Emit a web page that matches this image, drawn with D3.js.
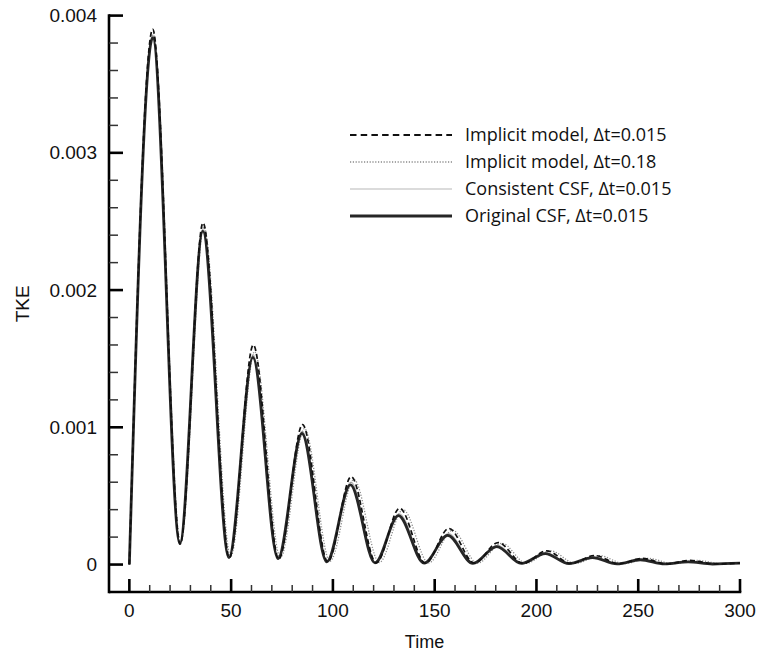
<!DOCTYPE html>
<html>
<head>
<meta charset="utf-8">
<script src="https://cdn.jsdelivr.net/npm/d3@7"></script>
<style>
  html, body { margin: 0; padding: 0; background: #fff; }
  svg { display: block; }
</style>
</head>
<body>
<svg id="chart" width="757" height="653"></svg>
<script>
// ---- Data ----
const seriesNames = [
  "Implicit model, \u0394t=0.015",
  "Implicit model, \u0394t=0.18",
  "Consistent CSF, \u0394t=0.015",
  "Original CSF, \u0394t=0.015"
];

// Original CSF, Δt=0.015 (peaks and troughs)
const origTime = [0, 11.5, 24.8, 36.1, 48.9, 60.7, 73.0, 84.8, 97.0, 108.6, 120.7, 132.2, 144.8, 156.4, 168.8, 180.5, 192.6, 204.3, 216.0, 227.5, 239.6, 251.0, 263.0, 274.5, 286.5, 300];
const origTKE  = [0, 0.00384, 0.000153, 0.00243, 0.00005, 0.00151, 0.000044, 0.000955, 0.00002, 0.00058, 0.000012, 0.000357, 0.00001, 0.000212, 0.000008, 0.000131, 0.000008, 0.00008, 0.000007, 0.00005, 0.000005, 0.000035, 0.000005, 0.00002, 0.000004, 0.00001];

// Consistent CSF, Δt=0.015
const consTime = [0, 11.5, 24.9, 36.2, 49.0, 60.8, 73.2, 85.0, 97.2, 108.9, 121.0, 132.6, 145.2, 156.8, 169.2, 180.9, 193.0, 204.7, 216.4, 228.0, 240.0, 251.5, 263.5, 275.0, 287.0, 300];
const consTKE  = [0, 0.00386, 0.000155, 0.00245, 0.00005, 0.00153, 0.000045, 0.00097, 0.00002, 0.0006, 0.000012, 0.00037, 0.00001, 0.000225, 0.000009, 0.00014, 0.000008, 0.000085, 0.000007, 0.000055, 0.000006, 0.000038, 0.000005, 0.000022, 0.000005, 0.00001];

// Implicit model, Δt=0.015
const impATime = [0, 11.5, 25.0, 36.2, 49.2, 60.9, 73.4, 85.1, 97.5, 109.0, 121.3, 132.8, 145.5, 157.0, 169.5, 181.2, 193.5, 205.0, 217.0, 228.5, 240.7, 252.0, 264.0, 275.5, 287.5, 300];
const impATKE  = [0, 0.0039, 0.00015, 0.00249, 0.00005, 0.0016, 0.00004, 0.00102, 0.00002, 0.00064, 0.000012, 0.00041, 0.00001, 0.000263, 0.00001, 0.00016, 0.000008, 0.0001, 0.000008, 0.000066, 0.000006, 0.000045, 0.000005, 0.00003, 0.000005, 0.00001];

// Implicit model, Δt=0.18
const impBTime = [0, 11.7, 25.2, 36.6, 49.8, 61.5, 74.2, 86.0, 98.6, 110.3, 122.8, 134.5, 147.0, 158.8, 171.0, 183.0, 195.0, 207.0, 219.0, 231.0, 243.0, 255.0, 267.0, 279.0, 291.0, 300];
const impBTKE  = [0, 0.00387, 0.00016, 0.00246, 0.00006, 0.00155, 0.00005, 0.00099, 0.000025, 0.00062, 0.000015, 0.0004, 0.000012, 0.00025, 0.00001, 0.000155, 0.00001, 0.0001, 0.000008, 0.000065, 0.000007, 0.000045, 0.000006, 0.00003, 0.000006, 0.00001];

const xMajorTicks = [0, 50, 100, 150, 200, 250, 300];
const xMinorTicks = [10, 20, 30, 40, 60, 70, 80, 90, 110, 120, 130, 140, 160, 170, 180, 190, 210, 220, 230, 240, 260, 270, 280, 290];
const yMajorTicks = [0, 0.001, 0.002, 0.003, 0.004];
const yTickLabels = ["0", "0.001", "0.002", "0.003", "0.004"];
const yMinorTicks = [0.0002, 0.0004, 0.0006, 0.0008, 0.0012, 0.0014, 0.0016, 0.0018, 0.0022, 0.0024, 0.0026, 0.0028, 0.0032, 0.0034, 0.0036, 0.0038];

// ---- Layout ----
const svg = d3.select("#chart");
svg.append("rect").attr("width", 757).attr("height", 653).attr("fill", "#fff");

const xScale = d3.scaleLinear().domain([-10, 300]).range([109, 740]);
const yScale = d3.scaleLinear().domain([-0.0002, 0.004]).range([592, 15.6]);

const axisFont = "'Liberation Sans', Arial, Helvetica, sans-serif";
const legendFont = "'Open Sans', 'Noto Sans', sans-serif";

// ---- Curves ----
const styles = [
  { time: consTime, tke: consTKE, stroke: "#b8b8b8", width: 1.2, dash: null },
  { time: impBTime, tke: impBTKE, stroke: "#8a8a8a", width: 1.3, dash: "1.2,1.6" },
  { time: origTime, tke: origTKE, stroke: "#262626", width: 2.8, dash: null },
  { time: impATime, tke: impATKE, stroke: "#111", width: 1.7, dash: "5,3" }
];

const lineGen = d3.line()
  .x(d => xScale(d[0]))
  .y(d => yScale(d[1]))
  .curve(d3.curveMonotoneX);

styles.forEach(s => {
  const pts = s.time.map((t, i) => [t, s.tke[i]]);
  svg.append("path")
    .attr("d", lineGen(pts))
    .attr("fill", "none")
    .attr("stroke", s.stroke)
    .attr("stroke-width", s.width)
    .attr("stroke-dasharray", s.dash)
    .attr("stroke-linejoin", "round");
});

// ---- Axes ----
const axLeft = xScale(-10), axBottom = yScale(-0.0002);
const axes = svg.append("g").attr("class", "axes");
axes.append("line")
  .attr("x1", axLeft).attr("x2", xScale(300) + 1.3).attr("y1", axBottom).attr("y2", axBottom)
  .attr("stroke", "#000").attr("stroke-width", 2.6);
axes.append("line")
  .attr("x1", axLeft).attr("x2", axLeft).attr("y1", yScale(0.004) - 1.3).attr("y2", axBottom + 1.3)
  .attr("stroke", "#000").attr("stroke-width", 2.6);
xMinorTicks.forEach(d => {
  axes.append("line")
    .attr("x1", xScale(d)).attr("x2", xScale(d))
    .attr("y1", axBottom).attr("y2", axBottom - 7)
    .attr("stroke", "#333").attr("stroke-width", 1.5);
});
yMinorTicks.forEach(d => {
  axes.append("line")
    .attr("x1", axLeft).attr("x2", axLeft + 9)
    .attr("y1", yScale(d)).attr("y2", yScale(d))
    .attr("stroke", "#333").attr("stroke-width", 1.5);
});
xMajorTicks.forEach(d => {
  axes.append("line")
    .attr("x1", xScale(d)).attr("x2", xScale(d))
    .attr("y1", axBottom).attr("y2", axBottom - 13)
    .attr("stroke", "#000").attr("stroke-width", 2.6);
});
yMajorTicks.forEach(d => {
  axes.append("line")
    .attr("x1", axLeft).attr("x2", axLeft + 14)
    .attr("y1", yScale(d)).attr("y2", yScale(d))
    .attr("stroke", "#000").attr("stroke-width", 2.6);
});
xMajorTicks.forEach(d => {
  axes.append("text")
    .attr("x", xScale(d)).attr("y", axBottom + 25)
    .attr("text-anchor", "middle")
    .attr("font-family", axisFont).attr("font-size", 19).attr("fill", "#111")
    .text(d3.format("d")(d));
});
yMajorTicks.forEach((d, i) => {
  axes.append("text")
    .attr("x", axLeft - 12).attr("y", yScale(d)).attr("dy", "0.35em")
    .attr("text-anchor", "end")
    .attr("font-family", axisFont).attr("font-size", 19).attr("fill", "#111")
    .text(yTickLabels[i]);
});

// Axis titles
svg.append("text")
  .attr("x", (xScale(-10) + xScale(300)) / 2).attr("y", 648)
  .attr("text-anchor", "middle")
  .attr("font-family", axisFont).attr("font-size", 18).attr("fill", "#111")
  .text("Time");
svg.append("text")
  .attr("transform", `translate(29,${(yScale(-0.0002) + yScale(0.004)) / 2}) rotate(-90)`)
  .attr("text-anchor", "middle")
  .attr("font-family", axisFont).attr("font-size", 19).attr("fill", "#111")
  .text("TKE");

// ---- Legend ----
const legendStyles = [styles[3], styles[1], styles[0], styles[2]];
const legendRowY = [135, 162, 189, 216];
const legend = svg.append("g");
seriesNames.forEach((name, i) => {
  const s = legendStyles[i];
  const ly = legendRowY[i];
  legend.append("line")
    .attr("x1", 350).attr("x2", 452)
    .attr("y1", ly).attr("y2", ly)
    .attr("stroke", s.stroke)
    .attr("stroke-width", i === 0 ? 1.8 : s.width)
    .attr("stroke-dasharray", i === 0 ? "6.5,4.2" : s.dash);
  legend.append("text")
    .attr("x", 465).attr("y", ly + 6)
    .attr("font-family", legendFont).attr("font-size", 18).attr("fill", "#111")
    .text(name);
});
</script>
</body>
</html>
